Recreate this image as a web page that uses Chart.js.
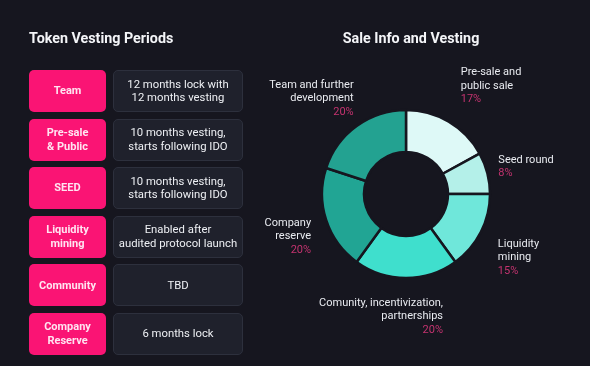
<!DOCTYPE html>
<html>
<head>
<meta charset="utf-8">
<script src="https://cdn.jsdelivr.net/npm/chart.js@4"></script>
<style>
  html, body { margin: 0; padding: 0; }
  body {
    width: 590px; height: 366px; overflow: hidden;
    background: #16161f; position: relative;
    font-family: Roboto, "Noto Sans", sans-serif; color: #eceef3;
  }
  #sale-chart { position: absolute; left: 0; top: 0; }
  .title {
    position: absolute; top: 30px; font-size: 14.3px; font-weight: 700; color: #f4f5f8;
  }
  #vesting-title { left: 29px; }
  #sale-title { left: 311px; width: 200px; text-align: center; }
  #vesting-table {
    position: absolute; left: 29px; top: 70px;
    display: grid; grid-template-columns: 77px 130px;
    grid-auto-rows: 42px; column-gap: 7px; row-gap: 6.6px;
  }
  .cat {
    background: #fa1474; border-radius: 5px; color: #ffe4f1;
    font-size: 11px; font-weight: 700; line-height: 13.5px;
    display: flex; align-items: center; justify-content: center; text-align: center;
    white-space: pre-line;
  }
  .info {
    background: #1f212c; border: 1px solid #2d303d; border-radius: 5px; box-sizing: border-box;
    font-size: 11.3px; line-height: 13.5px; color: #eef0f4;
    display: flex; align-items: center; justify-content: center; text-align: center;
    white-space: pre-line;
  }
</style>
</head>
<body>
<canvas id="sale-chart" width="590" height="366"></canvas>
<div class="title" id="vesting-title">Token Vesting Periods</div>
<div class="title" id="sale-title">Sale Info and Vesting</div>
<div id="vesting-table"></div>
<script>
// vesting table
const vestingGroups = ['Team', 'Pre-sale\n& Public', 'SEED', 'Liquidity\nmining', 'Community', 'Company\nReserve'];
const vestingTerms = [
  '12 months lock with\n12 months vesting',
  '10 months vesting,\nstarts following IDO',
  '10 months vesting,\nstarts following IDO',
  'Enabled after\naudited protocol launch',
  'TBD',
  '6 months lock'
];

// sale allocation (percent), clockwise from 12 o'clock
const saleLabels = [
  ['Pre-sale and', 'public sale'],
  ['Seed round'],
  ['Liquidity', 'mining'],
  ['Comunity, incentivization,', 'partnerships'],
  ['Company', 'reserve'],
  ['Team and further', 'development']
];
const saleShares = [17, 8, 15, 20, 20, 20];
const saleColors = ['#def9f7', '#b4f0e9', '#6fe7da', '#3fdfcd', '#21a594', '#23a291'];

// where each label sits relative to its slice's outer midpoint
const labelOffsets = [[12, -49, 'left'], [11, -13, 'left'], [17, 12, 'left'], [37, 25, 'right'], [-15, 3, 'right'], [-3, -41, 'right']];

const table = document.getElementById('vesting-table');
vestingGroups.forEach(function(g, i) {
  const a = document.createElement('div');
  a.className = 'cat';
  a.textContent = g;
  const b = document.createElement('div');
  b.className = 'info';
  b.textContent = vestingTerms[i];
  table.appendChild(a);
  table.appendChild(b);
});

const sliceLabels = {
  id: 'sliceLabels',
  afterDatasetsDraw(chart) {
    const ctx = chart.ctx;
    const meta = chart.getDatasetMeta(0);
    ctx.save();
    ctx.font = '11px Roboto, "Noto Sans", sans-serif';
    ctx.textBaseline = 'middle';
    meta.data.forEach(function(arc, i) {
      const mid = (arc.startAngle + arc.endAngle) / 2;
      const x = arc.x + Math.cos(mid) * arc.outerRadius + labelOffsets[i][0];
      let y = arc.y + Math.sin(mid) * arc.outerRadius + labelOffsets[i][1];
      ctx.textAlign = labelOffsets[i][2];
      ctx.fillStyle = '#e9ebf0';
      chart.data.labels[i].forEach(function(line) {
        ctx.fillText(line, x, y);
        y += 13.5;
      });
      ctx.fillStyle = '#c4336f';
      ctx.fillText(chart.data.datasets[0].data[i] + '%', x, y);
    });
    ctx.restore();
  }
};

new Chart(document.getElementById('sale-chart'), {
  type: 'doughnut',
  data: {
    labels: saleLabels,
    datasets: [{
      data: saleShares,
      backgroundColor: saleColors,
      borderColor: '#16161f',
      borderWidth: 2.5
    }]
  },
  options: {
    responsive: false,
    animation: false,
    radius: 84,
    cutout: '50%',
    layout: { padding: { left: 232, right: 10, top: 32, bottom: 10 } },
    plugins: {
      legend: { display: false },
      tooltip: { enabled: false }
    }
  },
  plugins: [sliceLabels]
});
</script>
</body>
</html>
